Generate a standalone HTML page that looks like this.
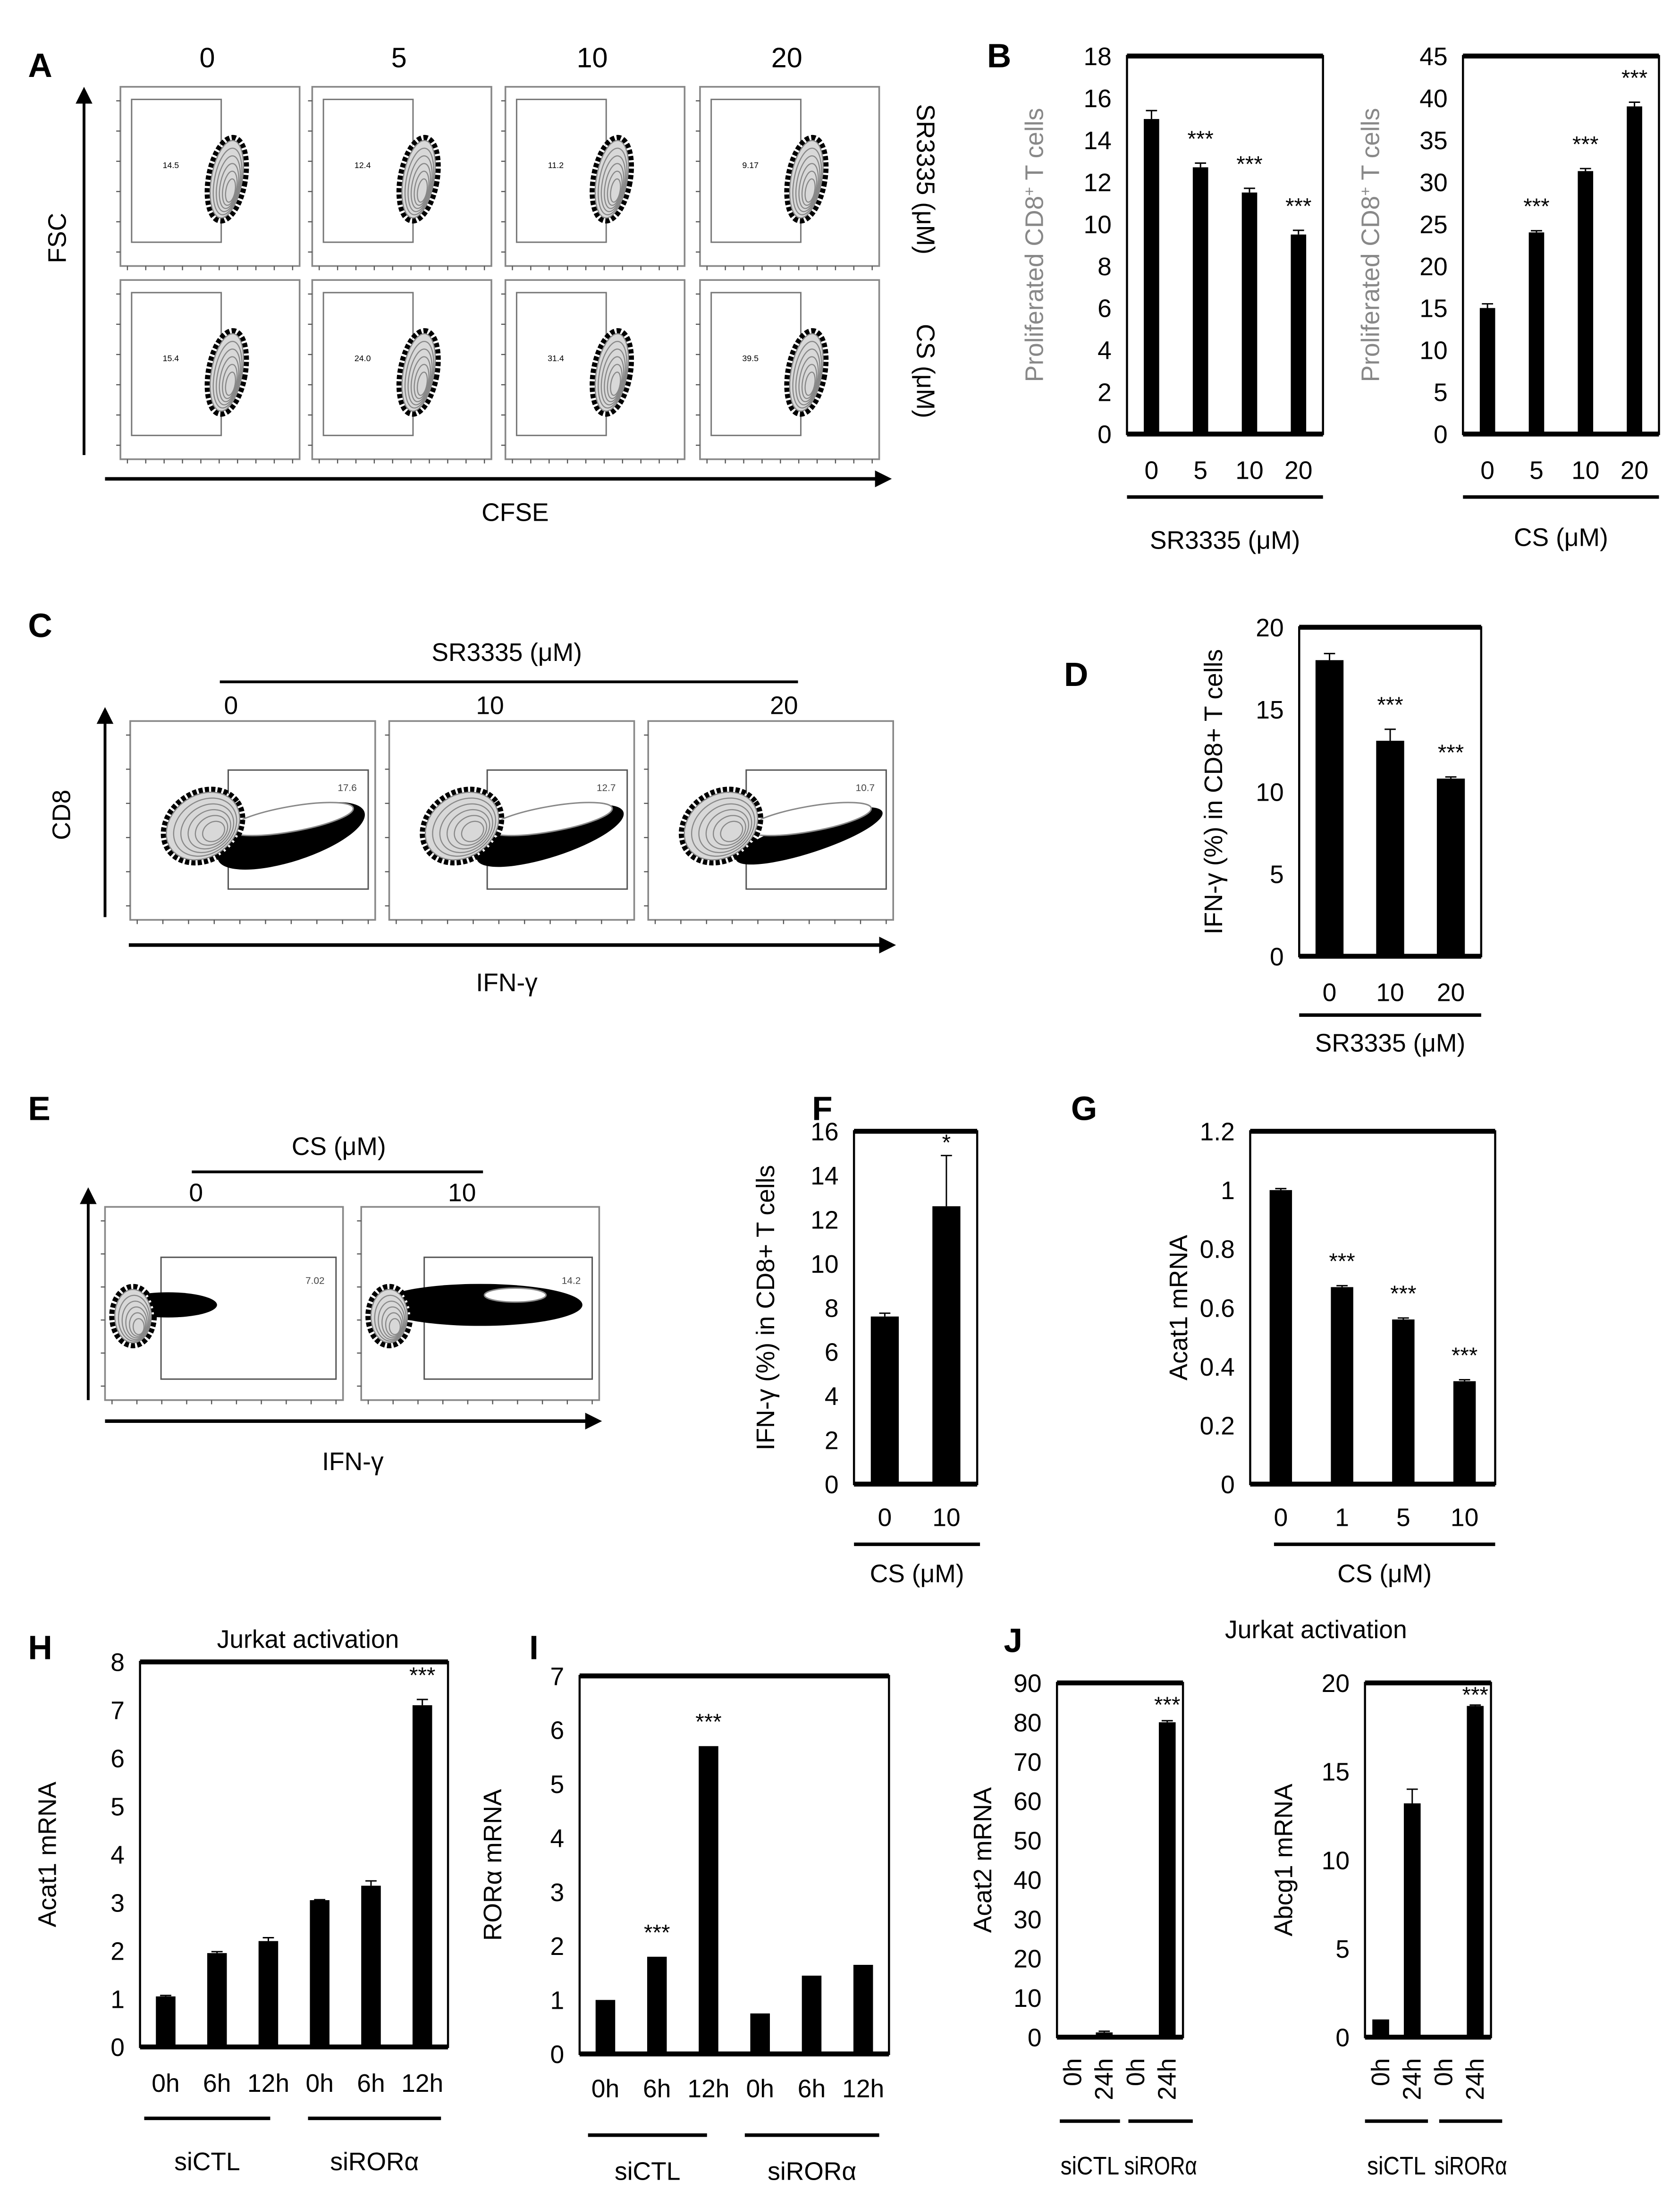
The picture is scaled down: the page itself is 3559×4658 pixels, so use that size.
<!DOCTYPE html>
<html><head><meta charset="utf-8"><style>
html,body{margin:0;padding:0;background:#fff;}
svg{display:block;font-family:"Liberation Sans",sans-serif;}
</style></head><body>
<svg id="fig" xmlns="http://www.w3.org/2000/svg" width="3559" height="4658" viewBox="0 0 1200 1570.6">
<rect x="0" y="0" width="1200" height="1571" fill="#fff"/>
<g id="flow"></g>
<g id="charts"></g>
</svg>
<script>
// ---- chart data ----
const bCats = ["0","5","10","20"];
const b1Vals = [15.0, 12.7, 11.5, 9.5];
const b1Errs = [0.4, 0.2, 0.2, 0.2];
const b1Stars = ["", "***", "***", "***"];
const b1Ticks = [0,2,4,6,8,10,12,14,16,18];
const b2Vals = [15.0, 24.0, 31.3, 39.0];
const b2Errs = [0.5, 0.2, 0.3, 0.5];
const b2Stars = ["", "***", "***", "***"];
const b2Ticks = [0,5,10,15,20,25,30,35,40,45];
const dCats = ["0","10","20"];
const dVals = [18.0, 13.1, 10.8];
const dErrs = [0.4, 0.7, 0.1];
const dStars = ["", "***", "***"];
const dTicks = [0,5,10,15,20];
const fCats = ["0","10"];
const fVals = [7.6, 12.6];
const fErrs = [0.15, 2.3];
const fStars = ["", "*"];
const fTicks = [0,2,4,6,8,10,12,14,16];
const gCats = ["0","1","5","10"];
const gVals = [1.0, 0.67, 0.56, 0.35];
const gErrs = [0.005, 0.005, 0.005, 0.005];
const gStars = ["", "***", "***", "***"];
const gTicks = [0,0.2,0.4,0.6,0.8,1,1.2];
const hCats = ["0h","6h","12h","0h","6h","12h"];
const hVals = [1.05, 1.95, 2.2, 3.05, 3.35, 7.1];
const hErrs = [0.02, 0.03, 0.07, 0.01, 0.1, 0.12];
const hStars = ["", "", "", "", "", "***"];
const hTicks = [0,1,2,3,4,5,6,7,8];
const iCats = ["0h","6h","12h","0h","6h","12h"];
const iVals = [1.0, 1.8, 5.7, 0.75, 1.45, 1.65];
const iErrs = [0, 0, 0, 0, 0, 0];
const iStars = ["", "***", "***", "", "", ""];
const iTicks = [0,1,2,3,4,5,6,7];
const jCats = ["0h","24h","0h","24h"];
const j1Vals = [0.5, 1.2, 0.5, 80];
const j1Errs = [0, 0.3, 0, 0.4];
const j1Stars = ["", "", "", "***"];
const j1Ticks = [0,10,20,30,40,50,60,70,80,90];
const j2Vals = [1.0, 13.2, 0.0, 18.7];
const j2Errs = [0, 0.8, 0, 0.05];
const j2Stars = ["", "", "", "***"];
const j2Ticks = [0,5,10,15,20];

const NS = "http://www.w3.org/2000/svg";
const charts = document.getElementById('charts');
const flow = document.getElementById('flow');
function mk(tag, attrs, parent, txt){
  const e = document.createElementNS(NS, tag);
  for (const k in attrs) e.setAttribute(k, attrs[k]);
  if (txt !== undefined) e.textContent = txt;
  (parent||charts).appendChild(e);
  return e;
}
function text(x,y,s,size,parent,extra){
  const a = Object.assign({x:x,y:y,'font-size':size,'text-anchor':'middle'}, extra||{});
  return mk('text', a, parent, s);
}

function barChart(c){
  const g = mk('g', {}, charts);
  
  
  const n = c.cats.length;
  const yS = v => c.y1 - (v / c.max) * (c.y1 - c.y0);
  const xS = i => c.x0 + (i + 0.5) * (c.x1 - c.x0) / n;
  const frame = mk('rect', {x:c.x0, y:c.y0, width:c.x1-c.x0, height:c.y1-c.y0, fill:'none', stroke:'#000', 'stroke-width':1.5}, g);
  
  
  mk('line', {x1:c.x0, x2:c.x1, y1:c.y0, y2:c.y0, stroke:'#000', 'stroke-width':3.5}, g);
  const base = mk('line', {x1:c.x0, x2:c.x1, y1:c.y1, y2:c.y1, stroke:'#000', 'stroke-width':3.5}, g);
  
  
  c.ticks.forEach(t => {
    const tl = text(c.x0 - 11, yS(t) + 6.5, String(t), 18, g, {'text-anchor':'end'});
    
    
  });
  c.vals.forEach((v,i) => {
    const cx = xS(i);
    const b = mk('rect', {x:cx - c.bw/2, y:yS(v), width:c.bw, height:Math.max(0, c.y1 - yS(v)), fill:'#000'}, g);
    
    
    const e = c.errs[i];
    if (e > 0) {
      mk('line', {x1:cx, x2:cx, y1:yS(v), y2:yS(v+e), stroke:'#000', 'stroke-width':1}, g);
      mk('line', {x1:cx-4, x2:cx+4, y1:yS(v+e), y2:yS(v+e), stroke:'#000', 'stroke-width':1}, g);
    }
    if (c.stars[i]) {
      const st = text(cx + (c.starDx||0), yS(v + e) - (c.starGap||12), c.stars[i], 16, g);
      
      
    }
    if (c.rotX) {
      const lb = text(cx + 6, c.xLabY, c.cats[i], 18, g, {transform:'rotate(-90 ' + (cx+6) + ' ' + c.xLabY + ')', 'text-anchor':'end'});
      
      
    } else {
      const lb = text(cx, c.xLabY, c.cats[i], 18, g);
      
      
    }
  });
  const yt = text(c.ytX, (c.y0 + c.y1)/2, '', 18, g, {transform:'rotate(-90 ' + c.ytX + ' ' + ((c.y0+c.y1)/2) + ')', fill:c.ytColor||'#000'});
  yt.innerHTML = c.yTitle;
  
  
  (c.groups||[]).forEach(gr => {
    const ln = mk('line', {x1:gr[0], x2:gr[1], y1:c.lineY, y2:c.lineY, stroke:'#000', 'stroke-width':2.5}, g);
    
    
    const extra = gr[4] ? {textLength:gr[4], lengthAdjust:'spacingAndGlyphs'} : {};
    const gl = text((gr[0]+gr[1])/2, gr[3], '', 18, g, extra);
    gl.innerHTML = gr[2];
    
    
  });
}

barChart({name:'chart-b-sr3335', x0:805, x1:945, y0:40, y1:310, max:18, ticks:b1Ticks, cats:bCats, vals:b1Vals, errs:b1Errs, stars:b1Stars, bw:11, xLabY:342, ytX:745, ytColor:'#888', yTitle:'Proliferated CD8<tspan baseline-shift="super" font-size="11">+</tspan> T cells', lineY:355, groups:[[805,945,'SR3335 (μM)',392]]});
barChart({name:'chart-b-cs', x0:1045, x1:1185, y0:40, y1:310, max:45, ticks:b2Ticks, cats:bCats, vals:b2Vals, errs:b2Errs, stars:b2Stars, bw:11, xLabY:342, ytX:985, ytColor:'#888', yTitle:'Proliferated CD8<tspan baseline-shift="super" font-size="11">+</tspan> T cells', lineY:355, groups:[[1045,1185,'CS (μM)',390]]});
barChart({name:'chart-d-ifng', x0:928, x1:1058, y0:448, y1:683, max:20, ticks:dTicks, cats:dCats, vals:dVals, errs:dErrs, stars:dStars, bw:20, xLabY:715, ytX:873, yTitle:'IFN-γ (%) in CD8+ T cells', lineY:725, groups:[[928,1058,'SR3335 (μM)',751]]});
barChart({name:'chart-f-ifng', x0:610, x1:698, y0:808, y1:1060, max:16, ticks:fTicks, cats:fCats, vals:fVals, errs:fErrs, stars:fStars, bw:20, starGap:4, xLabY:1090, ytX:553, yTitle:'IFN-γ (%) in CD8+ T cells', lineY:1103, groups:[[610,700,'CS (μM)',1130]]});
barChart({name:'chart-g-acat1', x0:893, x1:1068, y0:808, y1:1060, max:1.2, ticks:gTicks, cats:gCats, vals:gVals, errs:gErrs, stars:gStars, bw:16, xLabY:1090, ytX:848, yTitle:'Acat1 mRNA', lineY:1103, groups:[[910,1068,'CS (μM)',1130]]});
barChart({name:'chart-h-acat1', x0:100, x1:320, y0:1187, y1:1462, max:8, ticks:hTicks, cats:hCats, vals:hVals, errs:hErrs, stars:hStars, bw:14, xLabY:1494, ytX:40, yTitle:'Acat1 mRNA', lineY:1513, groups:[[103,193,'siCTL',1550],[220,315,'siRORα',1550]]});
barChart({name:'chart-i-rora', x0:414, x1:635, y0:1197, y1:1467, max:7, ticks:iTicks, cats:iCats, vals:iVals, errs:iErrs, stars:iStars, bw:14, xLabY:1498, ytX:358, yTitle:'RORα mRNA', lineY:1525, groups:[[420,505,'siCTL',1557],[532,628,'siRORα',1557]]});
barChart({name:'chart-j-acat2', x0:755, x1:845, y0:1202, y1:1455, max:90, ticks:j1Ticks, cats:jCats, vals:j1Vals, errs:j1Errs, stars:j1Stars, bw:12, starGap:6, rotX:true, xLabY:1470, ytX:708, yTitle:'Acat2 mRNA', lineY:1515, groups:[[757,800,'siCTL',1553,42],[806,852,'siRORα',1553,52]]});
barChart({name:'chart-j-abcg1', x0:975, x1:1065, y0:1202, y1:1455, max:20, ticks:j2Ticks, cats:jCats, vals:j2Vals, errs:j2Errs, stars:j2Stars, bw:12, starGap:2, rotX:true, xLabY:1470, ytX:923, yTitle:'Abcg1 mRNA', lineY:1515, groups:[[975,1020,'siCTL',1553,42],[1028,1073,'siRORα',1553,52]]});

// ---- panel letters & headings ----
const labels = [['A',20,55],['B',705,48],['C',20,455],['D',760,490],['E',20,800],['F',580,800],['G',765,800],['H',20,1185],['I',378,1185],['J',717,1180]];
labels.forEach(l => {
  const t = text(l[1], l[2], l[0], 24, charts, {'font-weight':'bold','text-anchor':'start'});
  
  
});
const j1 = text(220, 1177, 'Jurkat activation', 18);  
const j2 = text(940, 1170, 'Jurkat activation', 18);  

// ---- flow cytometry plots ----
function arrowH(x1,x2,y,p){ mk('line',{x1:x1,x2:x2-10,y1:y,y2:y,stroke:'#000','stroke-width':2.5},p); mk('polygon',{points:(x2-12)+','+(y-6)+' '+x2+','+y+' '+(x2-12)+','+(y+6),fill:'#000'},p); }
function arrowV(x,y1,y2,p){ mk('line',{x1:x,x2:x,y1:y1,y2:y2+10,stroke:'#000','stroke-width':2},p); mk('polygon',{points:(x-6)+','+(y2+12)+' '+x+','+y2+' '+(x+6)+','+(y2+12),fill:'#000'},p); }
function blob(cx,cy,rx,ry,rot,p){
  const g = mk('g',{transform:'rotate('+rot+' '+cx+' '+cy+')'},p);
  mk('ellipse',{cx:cx,cy:cy,rx:rx+2,ry:ry+2,fill:'#fff',stroke:'#000','stroke-width':4,'stroke-dasharray':'3 1.5'},g);
  for(let k=0;k<6;k++){ mk('ellipse',{cx:cx+k*0.8,cy:cy+k*1.5,rx:rx*(1-k*0.14),ry:ry*(1-k*0.14),fill:k==0?'#d8d8d8':'none',stroke:'#888','stroke-width':0.8},g); }
}
function panelBox(x,y,w,h,p){
  mk('rect',{x:x,y:y,width:w,height:h,fill:'#fff',stroke:'#888','stroke-width':1.2},p);
  for(let i=0;i<10;i++){ mk('line',{x1:x+5+i*(w-10)/9,x2:x+5+i*(w-10)/9,y1:y+h,y2:y+h+3,stroke:'#555','stroke-width':0.8},p); }
  for(let i=0;i<6;i++){ mk('line',{x1:x-3,x2:x,y1:y+10+i*(h-20)/5,y2:y+10+i*(h-20)/5,stroke:'#555','stroke-width':0.8},p); }
}
// Panel A
const aCols = [86,223,361,500], aRows = [62,200];
const aNums = [["14.5","12.4","11.2","9.17"],["15.4","24.0","31.4","39.5"]];
["0","5","10","20"].forEach((s,i)=>{ const t=text(aCols[i]+62,48,s,20,flow);   });
aRows.forEach((ry,r)=>{ aCols.forEach((cx,c)=>{
  const g = mk('g',{},flow);
  
  
  panelBox(cx,ry,128,128,g);
  mk('rect',{x:cx+8,y:ry+9,width:64,height:102,fill:'none',stroke:'#777','stroke-width':1},g);
  blob(cx+76,ry+66,11,28,10,g);
  text(cx+36,ry+58,aNums[r][c],6,g);
});});
arrowV(60,325,62,flow);
const fsc=text(47,170,'FSC',18,flow,{transform:'rotate(-90 47 170)'});  
arrowH(75,637,342,flow);
const cf=text(368,372,'CFSE',18,flow);  
const sr=text(655,128,'SR3335 (μM)',18,flow,{transform:'rotate(90 655 128)'});  
const csr=text(655,265,'CS (μM)',18,flow,{transform:'rotate(90 655 265)'});  
// Panel C
const ct=text(362,472,'SR3335 (μM)',18,flow);  
mk('line',{x1:157,x2:570,y1:487,y2:487,stroke:'#000','stroke-width':2},flow);
const cCols=[93,278,463], cNums=["17.6","12.7","10.7"], cDose=["0","10","20"];
cCols.forEach((x,i)=>{
  text(x+72+(i==2?25:0),510,cDose[i],18,flow);
  const g=mk('g',{},flow);
  
  
  panelBox(x,515,175,142,g);
  mk('rect',{x:x+70,y:550,width:100,height:85,fill:'none',stroke:'#555','stroke-width':1},g);
  mk('ellipse',{cx:x+115,cy:597,rx:55,ry:18-i*3,fill:'#000',transform:'rotate(-18 '+(x+115)+' 597)'},g);
  mk('ellipse',{cx:x+115,cy:585,rx:45,ry:9,fill:'#fff',stroke:'#888','stroke-width':1,transform:'rotate(-10 '+(x+115)+' 585)'},g);
  blob(x+52,590,28,22,-35,g);
  text(x+155,565,cNums[i],7,g,{fill:'#444'});
});
arrowV(75,655,505,flow); arrowH(92,640,675,flow);
const cd8=text(50,582,'CD8',18,flow,{transform:'rotate(-90 50 582)'});  
const ifn=text(362,708,'IFN-γ',18,flow);  
// Panel E
const et=text(242,825,'CS (μM)',18,flow);  
mk('line',{x1:137,x2:345,y1:837,y2:837,stroke:'#000','stroke-width':2},flow);
text(140,858,'0',18,flow); text(330,858,'10',18,flow);
[[75,"7.02"],[258,"14.2"]].forEach((p,i)=>{
  const x=p[0];
  const g=mk('g',{},flow);
  
  
  panelBox(x,862,170,138,g);
  mk('rect',{x:x+40+i*5,y:898,width:125-i*5,height:87,fill:'none',stroke:'#555','stroke-width':1},g);
  mk('ellipse',{cx:x+45+i*40,cy:932,rx:35+i*38,ry:9+i*6,fill:'#000'},g);
  if(i==1) mk('ellipse',{cx:x+110,cy:925,rx:22,ry:5,fill:'#fff',stroke:'#888'},g);
  blob(x+20,940,13,19,0,g);
  text(x+150,917,p[1],7,g,{fill:'#444'});
});
arrowV(63,1000,848,flow); arrowH(75,430,1015,flow);
const ifn2=text(252,1050,'IFN-γ',18,flow);  
</script>
</body></html>
